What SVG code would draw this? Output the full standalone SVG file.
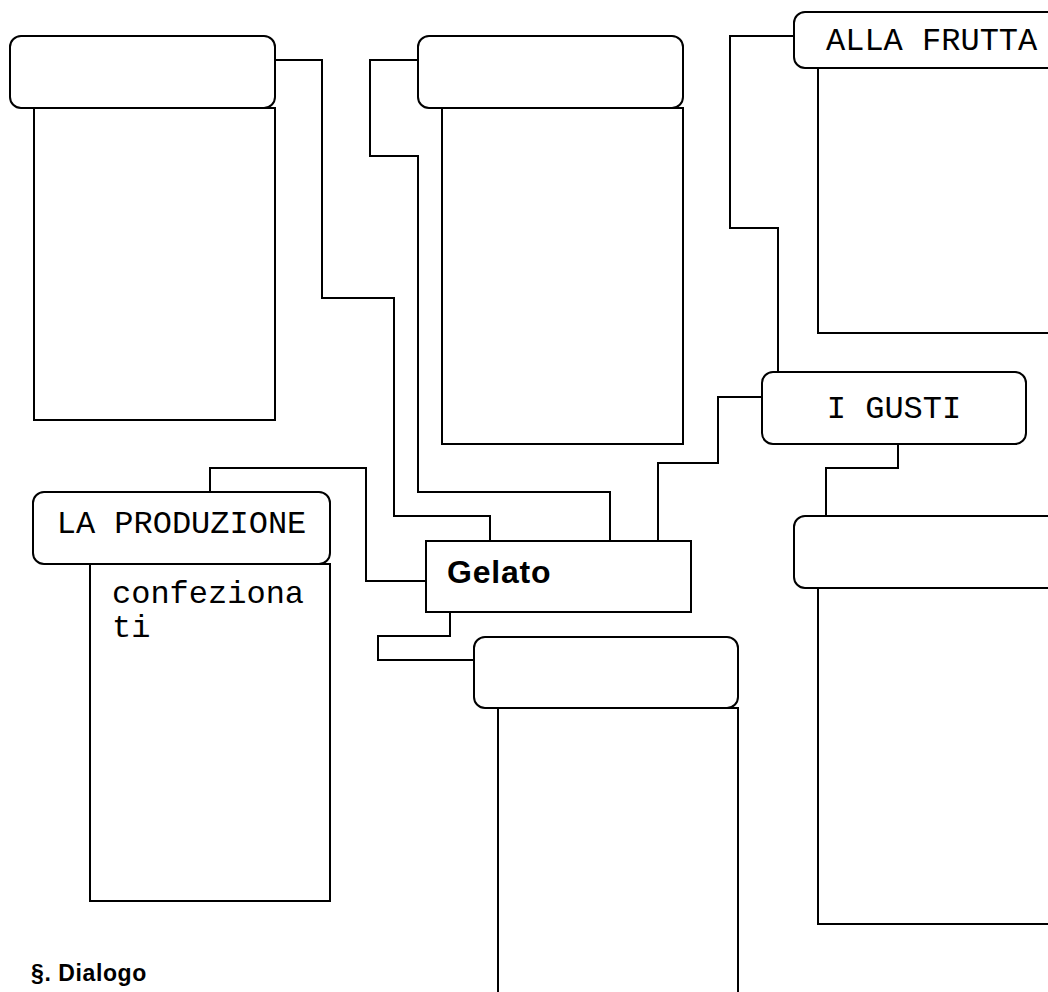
<svg xmlns="http://www.w3.org/2000/svg" width="1048" height="992" viewBox="0 0 1048 992">
<style>
.hd{fill:#fff;stroke:#000;stroke-width:2}
.bd{fill:#fff;stroke:#000;stroke-width:2}
.cn{fill:none;stroke:#000;stroke-width:2}
.mono{font-family:"Liberation Mono","Courier New",monospace;font-size:32px;fill:#000}
.bold{font-family:"Liberation Sans",Arial,sans-serif;font-weight:bold;fill:#000}
</style>
<rect width="1048" height="992" fill="#fff"/>
<g id="connectors">
<polyline class="cn" points="275,60 322,60 322,298 394,298 394,516 490,516 490,541"/>
<polyline class="cn" points="418,60 370,60 370,156 418,156 418,492 610,492 610,541"/>
<polyline class="cn" points="794,36 730,36 730,228 778,228 778,372"/>
<polyline class="cn" points="762,397 718,397 718,463 658,463 658,541"/>
<polyline class="cn" points="898,444 898,468 826,468 826,516"/>
<polyline class="cn" points="210,492 210,468 366,468 366,581 426,581"/>
<polyline class="cn" points="450,612 450,636 378,636 378,660 474,660"/>
</g>
<g id="node-topleft">
<rect class="bd" x="34" y="108" width="241" height="312"/>
<rect class="hd" x="10" y="36" width="265" height="72" rx="11"/>
</g>
<g id="node-topmid">
<rect class="bd" x="442" y="108" width="241" height="336"/>
<rect class="hd" x="418" y="36" width="265" height="72" rx="11"/>
</g>
<g id="node-alla-frutta">
<rect class="bd" x="818" y="68" width="241" height="265"/>
<rect class="hd" x="794" y="12" width="265" height="56" rx="11"/>
<text class="mono" x="826" y="50">ALLA FRUTTA</text>
</g>
<g id="node-i-gusti">
<rect class="hd" x="762" y="372" width="264" height="72" rx="11"/>
<text class="mono" x="894" y="418" text-anchor="middle">I GUSTI</text>
</g>
<g id="node-right">
<rect class="bd" x="818" y="588" width="241" height="336"/>
<rect class="hd" x="794" y="516" width="265" height="72" rx="11"/>
</g>
<g id="node-la-produzione">
<rect class="bd" x="90" y="564" width="240" height="337"/>
<rect class="hd" x="33" y="492" width="297" height="72" rx="11"/>
<text class="mono" x="181.5" y="533" text-anchor="middle">LA PRODUZIONE</text>
<text class="mono" x="112" y="603">confeziona</text>
<text class="mono" x="112" y="637">ti</text>
</g>
<g id="node-gelato">
<rect x="426" y="541" width="265" height="71" fill="#fff" stroke="#000" stroke-width="2"/>
<text class="bold" x="447" y="583" font-size="32" letter-spacing="0.8">Gelato</text>
</g>
<g id="node-bottom">
<rect class="bd" x="498" y="708" width="240" height="300"/>
<rect class="hd" x="474" y="637" width="264" height="71" rx="11"/>
</g>
<text class="bold" x="31" y="981" font-size="23" letter-spacing="0.6">§. Dialogo</text>
</svg>
